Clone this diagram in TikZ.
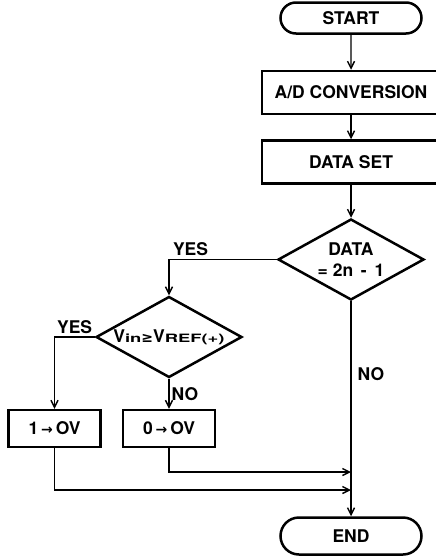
\documentclass[tikz,border=0pt]{standalone}
\usepackage{fontspec}
\setmainfont{TeX Gyre Heros}
\newfontfamily\symfont{DejaVu Sans}
\usepackage{graphicx}
\usetikzlibrary{arrows.meta, positioning, shapes.geometric, shapes.misc}

\newcommand{\widesub}[1]{\scalebox{1.6}[1]{\fontsize{11.5}{11.5}\selectfont #1}}
\newcommand{\symb}[1]{{\symfont\fontsize{14}{14}\selectfont #1}}

\begin{document}
\begin{tikzpicture}[
    x=1pt, y=-1pt,
    node distance=35pt,
    font=\fontsize{17.5}{21}\selectfont\bfseries,
    termbox/.style={draw, rounded rectangle, line width=2.5pt, minimum width=141pt,
        minimum height=31pt, inner sep=0pt},
    procbox/.style={draw, line width=2.5pt, minimum width=178pt,
        minimum height=43pt, inner sep=0pt},
    setbox/.style={draw, line width=2.5pt, minimum width=92pt,
        minimum height=37pt, inner sep=0pt},
    decision/.style={draw, diamond, line width=2.5pt, minimum width=146pt,
        minimum height=81pt, inner sep=0pt},
    arr/.style={-{Straight Barb[length=7pt, width=7pt]}, line width=1.4pt},
    lbl/.style={inner sep=3pt},
]
    \clip (0,0) rectangle (436,557);

    \node[termbox] (start) at (351,18) {START};
    \node[procbox, below=of start] (adc) {A/D CONVERSION};
    \node[procbox, below=24pt of adc] (dset) {DATA SET};
    \node[decision, below=33pt of dset,
        label={[align=center]center:DATA\\= 2n \,-\, 1}] (chk) {};
    \node[decision, label={center:V\widesub{in}\symb{≥}V\widesub{REF(+)}}] (cmp)
        at (169,337) {};
    \node[setbox, below=30pt of cmp] (zero) {0\,\symb{→}\,OV};
    \node[setbox, left=20pt of zero] (one) {1\,\symb{→}\,OV};
    \node[termbox, minimum height=37pt, below=215pt of chk] (stop) {END};

    \draw[arr] (start) -- (adc);
    \draw[arr] (adc) -- (dset);
    \draw[arr] (dset) -- (chk);
    \draw[arr] (chk.west) -| (cmp.north) node[lbl, pos=0.4, above] {YES};
    \draw[arr] (cmp.west) -| (one.north) node[lbl, pos=0.25, above] {YES};
    \draw[arr] (cmp.south) -- (zero.north) node[lbl, midway, right, inner sep=2pt] {NO};
    \draw[arr] (chk.south) -- (stop.north) node[lbl, pos=0.34, right, xshift=3pt] {NO};

    \coordinate (jzero) at (chk.south |- 0,472);
    \coordinate (jone) at (chk.south |- 0,490);
    \draw[arr] (zero.south) |- (jzero);
    \draw[arr] (one.south) |- (jone);
\end{tikzpicture}
\end{document}
